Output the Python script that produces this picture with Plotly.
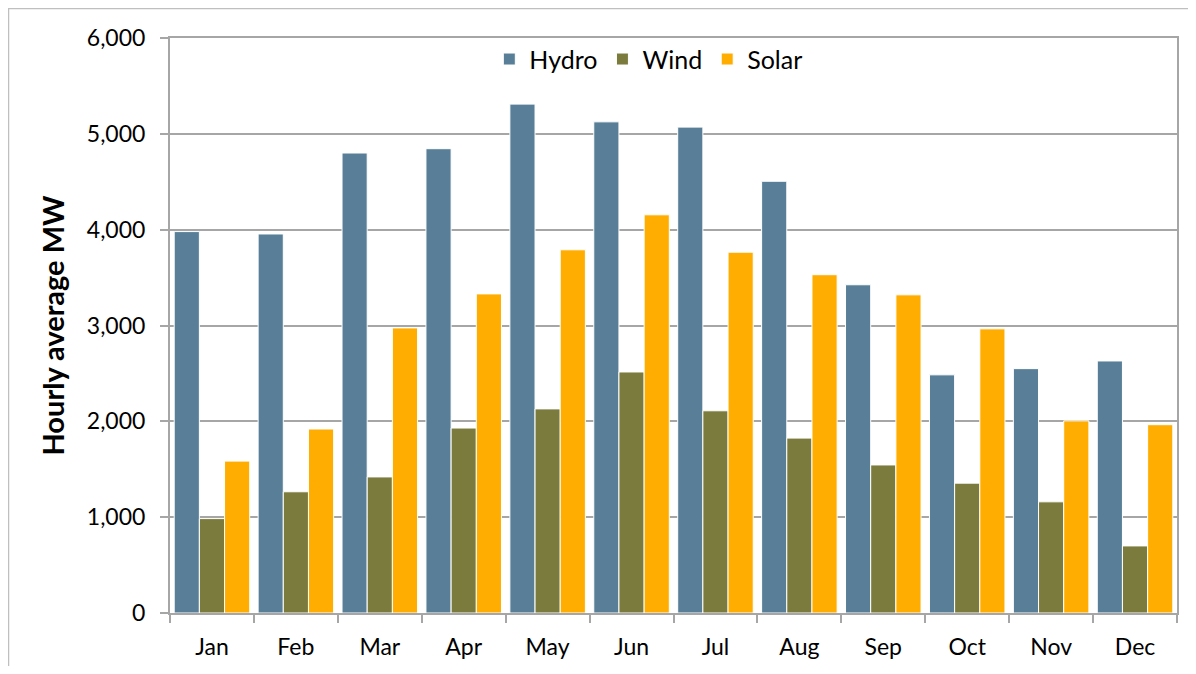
import plotly.graph_objects as go

months = ["Jan", "Feb", "Mar", "Apr", "May", "Jun", "Jul", "Aug", "Sep", "Oct", "Nov", "Dec"]
hydro = [3980, 3955, 4800, 4845, 5310, 5125, 5070, 4505, 3425, 2485, 2550, 2630]
wind = [985, 1265, 1420, 1930, 2130, 2515, 2110, 1825, 1545, 1355, 1160, 700]
solar = [1585, 1920, 2975, 3330, 3790, 4155, 3765, 3530, 3320, 2965, 2005, 1965]

colors = {"Hydro": "#587f97", "Wind": "#7b7b3d", "Solar": "#ffad00"}

fig = go.Figure()
for name, vals in [("Hydro", hydro), ("Wind", wind), ("Solar", solar)]:
    fig.add_trace(go.Bar(
        x=months, y=vals, name=name,
        marker=dict(color=colors[name], line=dict(color="white", width=1)),
    ))

# page has an 8px body margin, so the figure is sized to fit inside the window
W, H = 1180, 658
L, R, T, B = 162, 11, 30, 53
pw, ph = W - L - R, H - T - B

def px2paper_x(p):
    return (p - L) / pw

def py2paper_y(p):
    return (H - B - p) / ph

fig.add_shape(type="rect", xref="paper", yref="paper",
              x0=px2paper_x(0.5), x1=px2paper_x(1181),
              y0=py2paper_y(700), y1=py2paper_y(0.5),
              line=dict(color="#bfbfbf", width=1.5), fillcolor="rgba(0,0,0,0)", layer="below")

fig.update_layout(
    width=W, height=H,
    margin=dict(l=L, r=R, t=T, b=B, autoexpand=False),
    paper_bgcolor="white", plot_bgcolor="white",
    barmode="group", bargap=0.1, bargroupgap=0.0,
    font=dict(family="Lato, Open Sans, sans-serif", size=24, color="black"),
    legend=dict(orientation="h", x=0.475, xanchor="center", y=1.003, yanchor="top",
                font=dict(size=25), bgcolor="rgba(255,255,255,0)", itemwidth=30),
    showlegend=True,
)
fig.update_xaxes(
    showline=True, linecolor="#a6a6a6", linewidth=2, mirror=True,
    ticks="outside", tickson="boundaries", ticklen=8, tickcolor="#a6a6a6", tickwidth=2,
    tickfont=dict(size=23), ticklabelstandoff=12, automargin=False,
)
fig.update_yaxes(
    range=[0, 6000], dtick=1000, tickformat=",",
    showline=True, linecolor="#a6a6a6", linewidth=2, mirror=True,
    showgrid=True, gridcolor="#a6a6a6", gridwidth=1.5,
    ticks="outside", ticklen=8, tickcolor="#a6a6a6", tickwidth=2,
    tickfont=dict(size=23), zeroline=False, ticklabelstandoff=10, automargin=False,
    title=dict(text="<b>Hourly average MW</b>", font=dict(size=29), standoff=14),
)

fig.write_html("out.html")
